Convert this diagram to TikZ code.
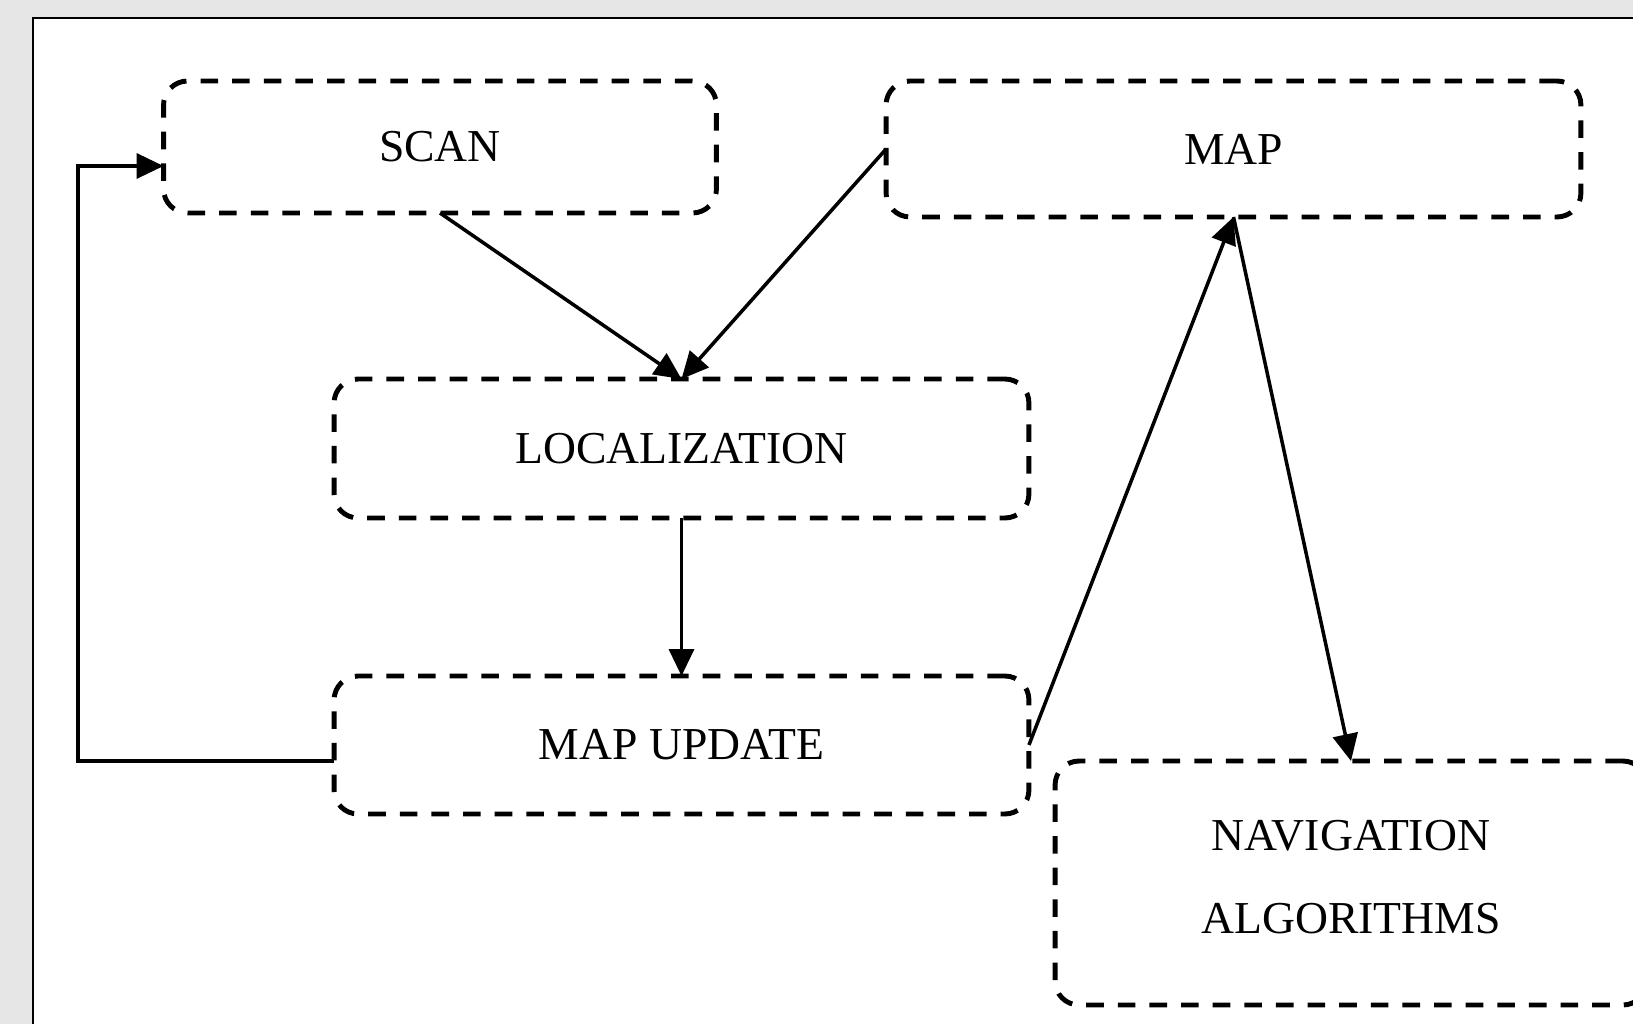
\documentclass[tikz,border=0pt]{standalone}
\usepackage{fontspec}
\setmainfont{Liberation Serif}
\usetikzlibrary{arrows.meta,calc}
\definecolor{pagegray}{HTML}{E6E6E6}
\tikzset{
  stagebox/.style={draw=black, line width=2.8pt, dash pattern=on 10pt off 8pt,
    rounded corners=0.48cm, inner sep=0pt, outer sep=0pt, align=center,
    font=\fontsize{26}{47.5}\selectfont},
  conn/.style={draw=black, line width=2pt,
    -{Triangle[length=0.54cm,width=0.5cm]}},
}
\begin{document}
\begin{tikzpicture}[x=0.02cm, y=-0.02cm]
  \useasboundingbox (0,0) rectangle (1633,1024);
  % page frame
  \fill[pagegray] (0,0) rectangle (1633,1024);
  \fill[white] (33,18) rectangle (1640,1030);
  \draw[line width=1.6pt] (1640,18) -- (33,18) -- (33,1030);

  % stages
  \node[stagebox, minimum width=11.06cm, minimum height=2.64cm] (scan) at (440,147) {SCAN};
  \node[stagebox, minimum width=13.9cm, minimum height=2.72cm] (map) at (1233.5,149) {MAP};
  \node[stagebox, minimum width=13.9cm, minimum height=2.78cm] (loc) at (681.5,448.5) {LOCALIZATION};
  \node[stagebox, minimum width=13.9cm, minimum height=2.76cm] (mu) at (681.5,745) {MAP UPDATE};
  % extra depth lifts the two text lines slightly above the box centre
  \node[stagebox, minimum width=11.84cm, minimum height=4.88cm] (nav) at (1351,883)
    {\raisebox{0pt}[\height][\dimexpr\depth+0.3cm\relax]{%
      \begin{tabular}{@{}c@{}}NAVIGATION\\ALGORITHMS\end{tabular}}};

  % connectors
  \draw[conn] (scan.south) -- (loc.north);
  \draw[conn] (map.west) -- (loc.north);
  \draw[conn] (loc.south) -- (mu.north);
  \draw[conn] (mu.east) -- (map.south);
  \draw[conn] (map.south) -- (nav.north);

  % feedback loop from the map update back to the scan
  \coordinate (fbstart) at ([yshift=-0.32cm]mu.west);
  \coordinate (fbend) at ([yshift=-0.38cm]scan.west);
  \coordinate (fbx) at (78,0);
  \draw[conn] (fbstart) -- (fbstart -| fbx) |- (fbend);
\end{tikzpicture}
\end{document}
